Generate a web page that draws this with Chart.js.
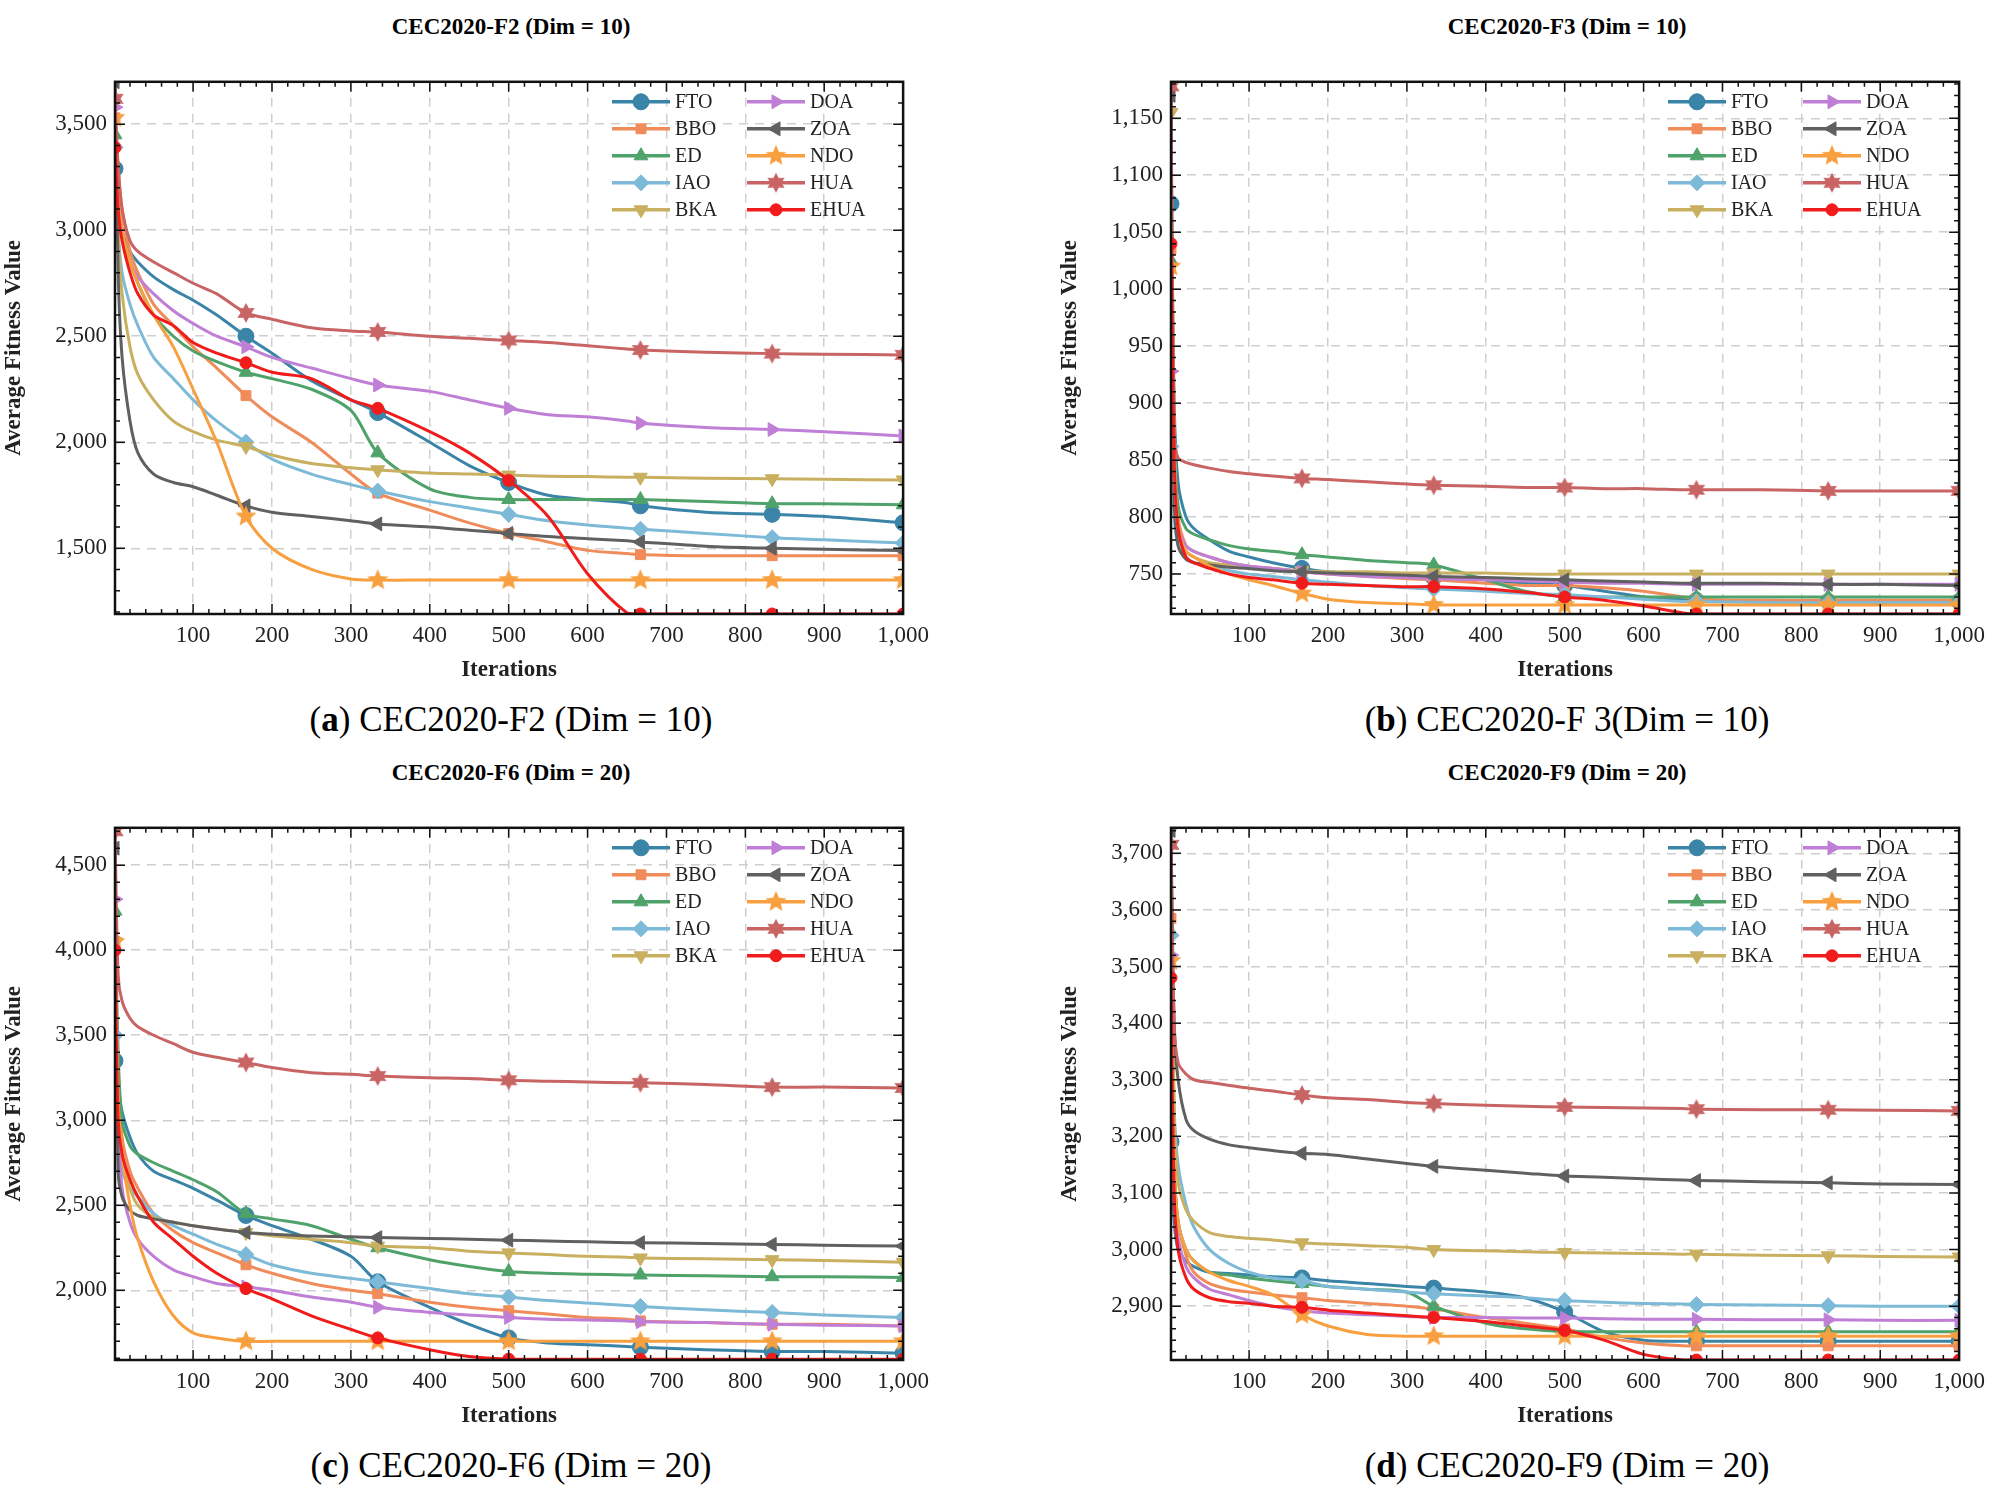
<!DOCTYPE html>
<html><head><meta charset="utf-8">
<script src="https://cdn.jsdelivr.net/npm/chart.js@4.4.1/dist/chart.umd.min.js"></script>
<style>
body{margin:0;background:#fff;width:2001px;height:1498px;position:relative;overflow:hidden;font-family:"Liberation Serif",serif}
canvas{position:absolute}
.t{position:absolute;font-weight:bold;font-size:23px;text-align:center;width:800px}
.c{position:absolute;font-size:35px;text-align:center;width:800px}
</style></head><body>
<script>
// iterations at which values were read
const iters = [1,5,10,20,30,50,75,100,130,167,200,250,300,334,400,450,500,550,600,650,667,750,834,900,1000];
const markIters = [1,167,334,500,667,834,1000];
const names = ['FTO','BBO','ED','IAO','BKA','DOA','ZOA','NDO','HUA','EHUA'];
const colors = ['#3a84a8','#f08c5a','#4ea26a','#7cbad8','#c8b060','#c07fd6','#606060','#f8a040','#c86464','#f01c1c'];

// CEC2020-F2 (Dim = 10)
const f2 = [
 [3290,3150,3000,2900,2850,2780,2720,2670,2600,2500,2420,2290,2200,2140,2000,1890,1810,1750,1730,1715,1700,1670,1660,1650,1620],
 [3530,3300,3100,2900,2800,2650,2550,2450,2350,2220,2120,2000,1850,1760,1680,1620,1570,1530,1490,1475,1470,1465,1465,1465,1465],
 [3450,3200,3000,2850,2750,2600,2500,2430,2380,2330,2300,2250,2150,1950,1780,1740,1730,1730,1730,1730,1730,1720,1710,1710,1705],
 [3390,3000,2800,2650,2550,2400,2300,2200,2100,2000,1920,1850,1800,1770,1720,1690,1660,1630,1610,1595,1590,1570,1550,1540,1525],
 [3700,3000,2700,2450,2320,2200,2100,2050,2010,1980,1940,1900,1880,1870,1855,1850,1845,1840,1838,1835,1835,1830,1828,1825,1822],
 [3580,3250,3000,2850,2780,2700,2620,2560,2500,2450,2400,2350,2300,2270,2240,2200,2160,2130,2120,2100,2090,2070,2060,2050,2030],
 [3700,2800,2400,2100,1950,1850,1810,1790,1750,1700,1670,1650,1630,1615,1600,1585,1570,1555,1545,1535,1530,1510,1500,1495,1490],
 [3530,3200,3000,2850,2750,2600,2450,2250,2000,1650,1500,1400,1355,1350,1350,1350,1350,1350,1350,1350,1350,1350,1350,1350,1350],
 [3620,3300,3100,2950,2900,2850,2800,2750,2700,2610,2580,2540,2525,2520,2500,2490,2480,2470,2455,2440,2435,2425,2418,2415,2412],
 [3390,3100,2950,2800,2700,2600,2550,2470,2420,2375,2330,2300,2200,2160,2050,1950,1820,1650,1380,1195,1190,1190,1190,1190,1190]
];
// CEC2020-F3 (Dim = 10)
const f3 = [
 [1075,900,830,800,790,780,770,765,760,755,752,750,748,747,745,742,740,735,730,728,727,726,726,726,726],
 [1035,870,800,775,770,765,760,757,755,752,750,748,746,745,742,740,740,738,735,730,728,727,727,727,727],
 [1025,870,810,790,785,780,775,772,770,767,765,762,760,758,745,735,730,730,730,730,730,730,730,730,730],
 [862,800,775,765,760,757,753,750,748,745,743,740,738,737,735,733,732,730,728,726,726,725,725,725,725],
 [1155,880,790,770,765,760,758,756,755,753,752,752,751,751,751,750,750,750,750,750,750,750,750,750,750],
 [928,820,790,775,770,765,760,757,755,752,750,748,747,746,745,744,743,742,742,741,741,741,741,741,741],
 [1170,820,775,763,760,758,756,755,753,752,751,750,749,748,747,746,745,744,743,742,742,742,741,741,740],
 [1020,850,790,770,765,757,750,745,740,733,728,725,724,723,723,723,723,723,723,723,723,723,723,723,723],
 [1178,870,852,848,846,843,840,838,836,834,833,831,829,828,827,826,826,825,825,824,824,824,823,823,823],
 [1040,850,790,765,760,755,750,747,745,742,741,740,739,739,737,734,730,727,722,716,715,715,715,715,715]
];
// CEC2020-F6 (Dim = 20)
const f6 = [
 [3350,3200,3050,2900,2800,2700,2650,2600,2530,2440,2380,2300,2200,2050,1900,1800,1720,1690,1680,1670,1665,1650,1640,1640,1630],
 [4050,3300,2900,2700,2600,2450,2350,2280,2220,2150,2100,2040,2000,1980,1930,1900,1880,1860,1840,1830,1820,1810,1800,1800,1790],
 [4230,3400,3000,2850,2800,2750,2700,2650,2580,2450,2420,2380,2300,2250,2180,2140,2110,2100,2095,2090,2090,2085,2080,2080,2075],
 [3500,2900,2700,2600,2550,2450,2380,2330,2270,2210,2150,2100,2070,2050,2010,1980,1960,1940,1925,1910,1905,1885,1870,1855,1840],
 [4050,3100,2800,2600,2500,2430,2400,2380,2360,2340,2320,2300,2280,2260,2250,2230,2220,2210,2200,2195,2190,2185,2180,2175,2165],
 [4300,3000,2600,2400,2300,2200,2120,2080,2040,2020,2000,1960,1930,1900,1870,1855,1840,1830,1825,1820,1815,1810,1800,1795,1790],
 [4600,2700,2550,2470,2440,2420,2400,2380,2360,2340,2330,2320,2315,2310,2305,2300,2295,2290,2285,2280,2280,2275,2270,2265,2260],
 [4050,3100,2800,2500,2300,2050,1850,1750,1720,1700,1700,1700,1700,1700,1700,1700,1700,1700,1700,1700,1700,1700,1700,1700,1700],
 [4700,3850,3700,3600,3550,3500,3450,3400,3370,3340,3310,3280,3270,3260,3250,3245,3235,3230,3225,3220,3220,3210,3195,3195,3190],
 [4000,3000,2800,2650,2550,2400,2300,2200,2100,2010,1950,1850,1770,1720,1650,1610,1595,1595,1595,1595,1595,1595,1595,1595,1595]
];
// CEC2020-F9 (Dim = 20)
const f9 = [
 [3190,3050,3000,2980,2970,2960,2958,2955,2952,2950,2945,2940,2935,2932,2925,2915,2890,2855,2840,2838,2838,2838,2838,2838,2838],
 [3585,3150,3050,2990,2960,2940,2930,2925,2920,2915,2910,2905,2900,2895,2880,2870,2860,2845,2835,2830,2830,2830,2830,2830,2830],
 [3560,3150,3050,3000,2980,2960,2955,2950,2945,2940,2935,2930,2925,2900,2870,2860,2855,2855,2855,2855,2855,2855,2855,2855,2855],
 [3555,3250,3150,3080,3040,3000,2975,2960,2950,2945,2935,2930,2925,2922,2918,2915,2910,2907,2905,2904,2903,2902,2901,2900,2900],
 [3740,3250,3120,3070,3050,3030,3023,3020,3017,3012,3010,3007,3004,3000,2998,2996,2995,2994,2993,2992,2992,2990,2989,2988,2987],
 [3520,3100,3020,2970,2950,2930,2920,2910,2900,2892,2888,2885,2882,2880,2880,2879,2879,2878,2877,2877,2877,2876,2876,2875,2875],
 [3740,3400,3300,3230,3210,3195,3185,3180,3175,3170,3168,3160,3152,3147,3140,3135,3130,3128,3125,3123,3122,3120,3118,3116,3115],
 [3510,3150,3050,3000,2980,2960,2945,2935,2920,2885,2865,2850,2847,2847,2847,2847,2847,2847,2847,2847,2847,2847,2847,2847,2847],
 [3715,3400,3330,3310,3300,3295,3290,3285,3280,3273,3268,3265,3260,3258,3255,3253,3252,3251,3250,3249,3248,3247,3247,3246,3245],
 [3480,3100,3000,2950,2930,2915,2908,2905,2900,2898,2893,2888,2883,2880,2873,2865,2857,2840,2815,2805,2805,2805,2805,2805,2805]
];

function starImg(color, n, r) {
  const c = document.createElement('canvas');
  c.width = c.height = 2 * r + 2;
  const g = c.getContext('2d');
  g.fillStyle = color;
  g.beginPath();
  for (let i = 0; i < 2 * n; i++) {
    const rr = i % 2 ? r * (n === 5 ? 0.45 : 0.55) : r;
    const a = -Math.PI / 2 + i * Math.PI / n;
    g.lineTo(r + 1 + rr * Math.cos(a), r + 1 + rr * Math.sin(a));
  }
  g.closePath(); g.fill();
  return c;
}
const styles = ['circle','rect','triangle','rectRot','triangle','triangle','triangle',
  starImg(colors[7],5,11), starImg(colors[8],6,10), 'circle'];
const rots = [0,0,0,0,180,90,-90,0,0,0];
const radii = [8,7,8,8,8,8,8,10,10,6];

const boxPlugin = {
  id: 'box',
  afterDraw(chart) {
    const {ctx, chartArea: a} = chart;
    const xs = chart.scales.x, ys = chart.scales.y;
    ctx.save();
    ctx.strokeStyle = '#111'; ctx.lineWidth = 2.5;
    ctx.strokeRect(a.left, a.top, a.right - a.left, a.bottom - a.top);
    ctx.lineWidth = 1.5;
    for (let v = 20; v < 1000; v += 20) {
      const x = xs.getPixelForValue(v), L = v % 100 ? 5 : 10;
      ctx.beginPath(); ctx.moveTo(x, a.bottom); ctx.lineTo(x, a.bottom - L);
      ctx.moveTo(x, a.top); ctx.lineTo(x, a.top + L); ctx.stroke();
    }
    const st = chart.options.scales.y.ticks.stepSize / 5;
    for (let v = Math.ceil(ys.min / st) * st; v <= ys.max; v += st) {
      const y = ys.getPixelForValue(v), L = Math.round(v / st) % 5 ? 5 : 10;
      ctx.beginPath(); ctx.moveTo(a.left, y); ctx.lineTo(a.left + L, y);
      ctx.moveTo(a.right, y); ctx.lineTo(a.right - L, y); ctx.stroke();
    }
    // legend
    ctx.font = '20px "Liberation Serif"'; ctx.textBaseline = 'middle';
    chart.data.datasets.forEach((ds, i) => {
      const col = Math.floor(i / 5), row = i % 5;
      const x0 = a.left + 497 + col * 135, y0 = a.top + 20 + row * 27;
      ctx.strokeStyle = ds.borderColor; ctx.lineWidth = 3.5;
      ctx.beginPath(); ctx.moveTo(x0, y0); ctx.lineTo(x0 + 58, y0); ctx.stroke();
      ctx.fillStyle = ds.backgroundColor; ctx.strokeStyle = ds.borderColor; ctx.lineWidth = 1;
      Chart.helpers.drawPoint(ctx, {pointStyle: ds.pointStyle, rotation: ds.rotation,
        radius: ds.radius, borderWidth: 1}, x0 + 29, y0);
      ctx.fillStyle = '#222'; ctx.fillText(ds.label, x0 + 63, y0 + 1);
    });
    ctx.restore();
  }
};

function makePanel(left, top, series, ymin, ymax, step, title, caption) {
  const cv = document.createElement('canvas');
  const cl = left - 115, ct = top, w = 792 + 115 + 30, h = 554 + 70;
  cv.width = w; cv.height = h;
  cv.style.left = cl + 'px'; cv.style.top = ct + 'px';
  cv.style.width = w + 'px'; cv.style.height = h + 'px';
  document.body.appendChild(cv);
  const t = document.createElement('div'); t.className = 't'; t.textContent = title;
  t.style.left = (left + 396 - 400) + 'px'; t.style.top = (top - 46) + 'px';
  document.body.appendChild(t);
  const cap = document.createElement('div'); cap.className = 'c'; cap.innerHTML = caption;
  cap.style.left = (left + 396 - 400) + 'px'; cap.style.top = (top + 640) + 'px';
  document.body.appendChild(cap);
  const font = {family: '"Liberation Serif"', size: 23};
  new Chart(cv, {
    type: 'line',
    data: {
      datasets: series.map((s, i) => ({
        label: names[i],
        data: iters.map((x, k) => ({x, y: s[k]})),
        borderColor: colors[i], backgroundColor: colors[i],
        borderWidth: 3, tension: 0.3,
        pointStyle: styles[i], rotation: rots[i], radius: radii[i],
        pointRadius: c => markIters.includes(c.raw && c.raw.x) ? radii[i] : 0,
        pointBorderWidth: 1,
        order: 10 - i
      }))
    },
    options: {
      responsive: false, animation: false, devicePixelRatio: 1,
      layout: {padding: {right: 30, top: 0}},
      plugins: {legend: {display: false}, tooltip: {enabled: false}},
      scales: {
        x: {type: 'linear', min: 1, max: 1000,
          ticks: {font, color: '#222', padding: 8},
          afterBuildTicks: s => { s.ticks = [100,200,300,400,500,600,700,800,900,1000].map(v => ({value: v})); },
          afterFit: s => { s.height = 70; },
          grid: {color: '#cfcfcf', lineWidth: 1.5, drawTicks: false},
          border: {display: false, dash: [9, 7]},
          title: {display: true, text: 'Iterations', font: {...font, weight: 'bold'}, color: '#222', padding: 0}},
        y: {min: ymin, max: ymax,
          ticks: {font, color: '#222', padding: 8, stepSize: step},
          afterBuildTicks: s => { const a = []; for (let v = Math.ceil(ymin / step) * step; v <= ymax; v += step) a.push({value: v}); s.ticks = a; },
          afterFit: s => { s.width = 115; },
          grid: {color: '#cfcfcf', lineWidth: 1.5, drawTicks: false},
          border: {display: false, dash: [9, 7]},
          title: {display: true, text: 'Average Fitness Value', font: {...font, weight: 'bold'}, color: '#222', padding: 0}}
      }
    },
    plugins: [boxPlugin]
  });
}

makePanel(115, 60, f2, 1190, 3700, 500, 'CEC2020-F2 (Dim = 10)', '(<b>a</b>) CEC2020-F2 (Dim = 10)');
makePanel(1171, 60, f3, 715, 1182, 50, 'CEC2020-F3 (Dim = 10)', '(<b>b</b>) CEC2020-F 3(Dim = 10)');
makePanel(115, 806, f6, 1590, 4720, 500, 'CEC2020-F6 (Dim = 20)', '(<b>c</b>) CEC2020-F6 (Dim = 20)');
makePanel(1171, 806, f9, 2805, 3745, 100, 'CEC2020-F9 (Dim = 20)', '(<b>d</b>) CEC2020-F9 (Dim = 20)');
</script>
</body></html>
